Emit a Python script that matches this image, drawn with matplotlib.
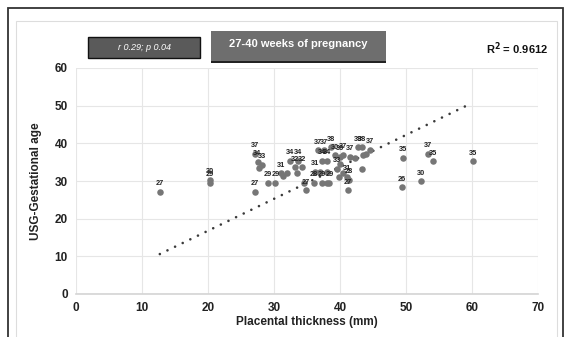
import matplotlib
matplotlib.use('Agg')
import matplotlib.pyplot as plt
from matplotlib.patches import Rectangle

plt.rcParams['font.family'] = ['Liberation Sans', 'DejaVu Sans']

# placental thickness (mm), USG gestational age (weeks), point labels
thick = [12.7, 20.3, 20.3,
         27.1, 27.5, 28.2, 27.8, 27.1, 29.1, 30.2, 31.0, 31.4,
         32.4, 33.6, 33.2, 34.2, 32.0, 33.5, 34.8, 34.5, 36.1, 37.2, 38.4,
         36.2, 37.0, 38.0, 36.7, 37.6, 38.6, 37.2, 38.0, 39.2, 40.0, 40.5,
         41.5, 42.7, 43.3, 44.5, 42.2, 43.5, 44.0, 39.5, 40.5, 41.0, 39.8,
         41.4, 41.2, 43.3, 38.0, 40.0,
         49.5, 49.4, 53.3, 54.1, 52.3, 60.2]
ga = [27.2, 29.4, 30.2,
      37.3, 35.0, 34.2, 33.5, 27.2, 29.4, 29.4, 32.0, 31.2,
      35.4, 35.4, 33.6, 33.6, 32.0, 32.0, 27.5, 29.4, 29.4, 29.4, 29.4,
      32.5, 32.5, 32.5, 38.1, 38.1, 38.9, 35.4, 35.4, 36.8, 36.5, 37.0,
      36.5, 38.9, 38.9, 38.3, 36.2, 36.8, 37.3, 33.3, 32.0, 31.0, 31.0,
      30.2, 27.5, 33.3, 29.4, 34.5,
      36.2, 28.3, 37.3, 35.2, 29.9, 35.2]
labels = ['27', '29', '30',
          '37', '34', '33', '', '27', '29', '29', '31', '',
          '34', '34', '32', '32', '', '', '27', '', '28', '29', '29',
          '31', '', '', '37', '37', '38', '34', '34', '30', '36', '37',
          '37', '38', '38', '37', '', '', '', '33', '', '31', '',
          '28', '27', '', '', '',
          '35', '26', '37', '35', '30', '35']

# dotted trend line end points
trend_x = [12.7, 60.0]
trend_y = [10.6, 50.7]

W, H = 570, 337
fig = plt.figure(figsize=(W / 100, H / 100), dpi=100)

def fx(px):
    return px / W

def fy(py):
    return 1 - py / H

# frames
fig.patches.append(Rectangle((fx(8), fy(345)), fx(555), 337 / H,
                             transform=fig.transFigure, fill=False,
                             edgecolor='#333333', lw=1.3))
fig.patches.append(Rectangle((fx(16), fy(345)), fx(541), 324 / H,
                             transform=fig.transFigure, fill=False,
                             edgecolor='#dddddd', lw=0.8))

ax = fig.add_axes([fx(76), fy(294), fx(538 - 76), (294 - 68) / H])
ax.set_xlim(0, 70)
ax.set_ylim(0, 60)
ax.set_xticks(range(0, 71, 10))
ax.set_yticks(range(0, 61, 10))
ax.grid(True, color='#e6e6e6', lw=0.8)
ax.set_axisbelow(True)
for s in ['top', 'right', 'left']:
    ax.spines[s].set_visible(False)
ax.spines['bottom'].set_color('#d4d4d4')
ax.spines['bottom'].set_linewidth(1.2)
ax.tick_params(length=0, labelsize=8.5, colors='#222222', pad=6)
for t in ax.get_xticklabels() + ax.get_yticklabels():
    t.set_fontweight('bold')

ax.plot(trend_x, trend_y, color='#3a3a3a', lw=1.9,
        linestyle=(0, (0.01, 3.2)), dash_capstyle='round')

ax.scatter(thick, ga, s=22, color='#767676', zorder=3, linewidths=0)
for x, y, lab in zip(thick, ga, labels):
    if lab:
        ax.annotate(lab, (x, y), xytext=(0, 3.5), textcoords='offset points',
                    ha='center', va='bottom', fontsize=5.3, color='#222222',
                    fontweight='bold', zorder=4)

ax.set_xlabel('Placental thickness (mm)', fontsize=8.5, fontweight='bold',
              color='#222222', labelpad=1)
ax.set_ylabel('USG-Gestational age', fontsize=8.5, fontweight='bold',
              color='#222222', labelpad=9)

# boxes at the top
fig.patches.append(Rectangle((fx(88), fy(58)), fx(112), 21 / H,
                             transform=fig.transFigure, facecolor='#5a5a5a',
                             edgecolor='#111111', lw=1.0))
fig.text(fx(144), fy(47.5), 'r 0.29; p 0.04', ha='center', va='center',
         fontsize=6.5, style='italic', color='white')
fig.patches.append(Rectangle((fx(211), fy(62)), fx(175), 31 / H,
                             transform=fig.transFigure, facecolor='#6e6e6e',
                             edgecolor='none'))
fig.patches.append(Rectangle((fx(211), fy(63)), fx(175), 2 / H,
                             transform=fig.transFigure, facecolor='#222222',
                             edgecolor='none'))
fig.text(fx(298), fy(44), '27-40 weeks of pregnancy', ha='center', va='center',
         fontsize=8, fontweight='bold', color='white')

fig.text(fx(517), fy(49), r'R$^\mathbf{2}$ = 0.9612', ha='center', va='center',
         fontsize=8, fontweight='bold', color='#111111')

fig.savefig('out.png', dpi=100)
